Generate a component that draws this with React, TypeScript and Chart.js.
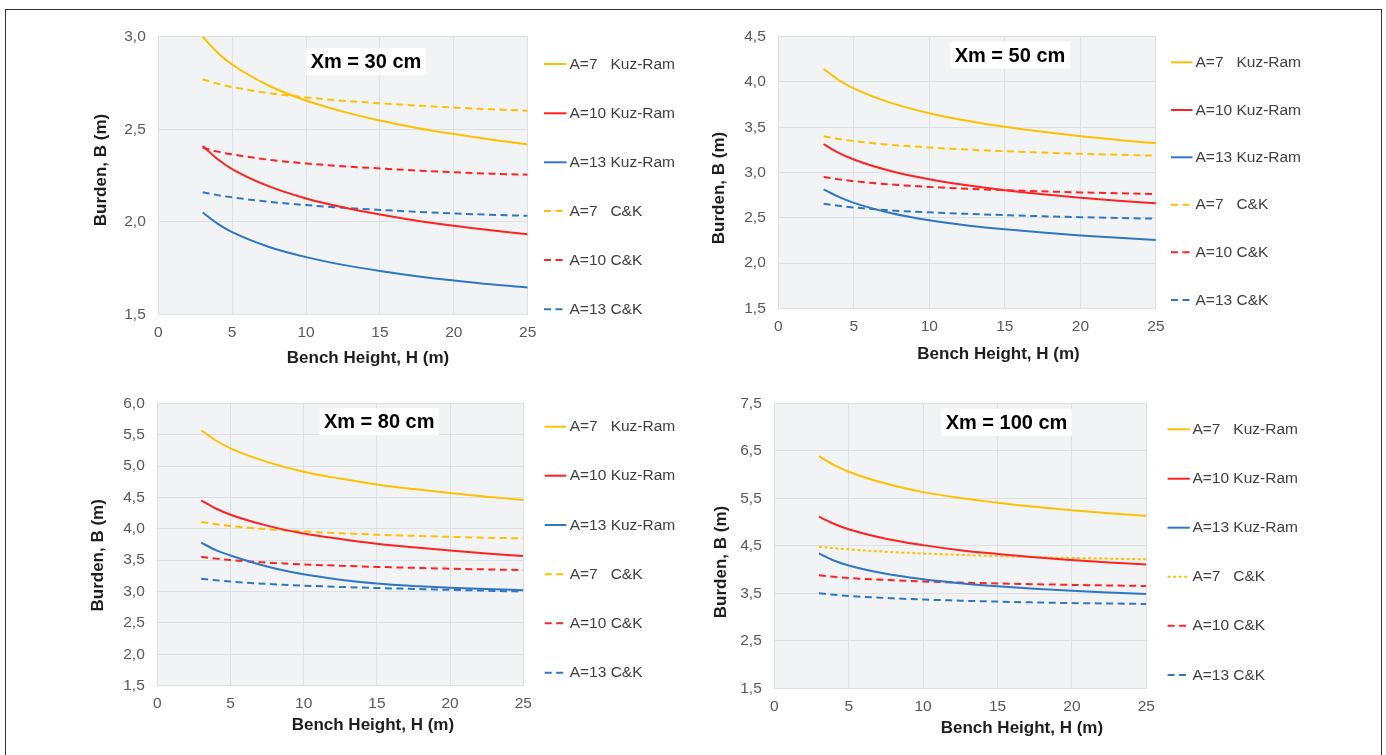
import React, { useEffect, useRef } from "react";
import { Chart, registerables } from "chart.js";

Chart.register(...registerables);

const FONT = '"Liberation Sans", Arial, Helvetica, sans-serif';

// ---------------- data ----------------
const benchHeights = [3, 4, 5, 7.5, 10, 12.5, 15, 17.5, 20, 22.5, 25];
const xTickValues = [0, 5, 10, 15, 20, 25];

const yTicks30 = [1.5, 2.0, 2.5, 3.0];
const yTicks50 = [1.5, 2.0, 2.5, 3.0, 3.5, 4.0, 4.5];
const yTicks80 = [1.5, 2.0, 2.5, 3.0, 3.5, 4.0, 4.5, 5.0, 5.5, 6.0];
const yTicks100 = [1.5, 2.5, 3.5, 4.5, 5.5, 6.5, 7.5];

const seriesLabels = [
  "A=7   Kuz-Ram",
  "A=10 Kuz-Ram",
  "A=13 Kuz-Ram",
  "A=7   C&K",
  "A=10 C&K",
  "A=13 C&K",
];

// Xm = 30 cm
const kr7_30 = [3.0, 2.915, 2.85, 2.735, 2.655, 2.595, 2.547, 2.507, 2.474, 2.444, 2.418];
const kr10_30 = [2.41, 2.339, 2.285, 2.191, 2.126, 2.078, 2.039, 2.006, 1.978, 1.954, 1.933];
const kr13_30 = [2.05, 1.99, 1.944, 1.864, 1.809, 1.767, 1.734, 1.706, 1.683, 1.662, 1.645];
const ck7_30 = [2.77, 2.746, 2.728, 2.695, 2.672, 2.654, 2.64, 2.628, 2.617, 2.608, 2.6];
const ck10_30 = [2.4, 2.379, 2.364, 2.335, 2.315, 2.3, 2.288, 2.277, 2.268, 2.26, 2.254];
const ck13_30 = [2.16, 2.144, 2.132, 2.108, 2.09, 2.076, 2.064, 2.054, 2.045, 2.038, 2.032];

// Xm = 50 cm
const kr7_50 = [4.143, 4.021, 3.929, 3.766, 3.655, 3.572, 3.505, 3.449, 3.401, 3.36, 3.322];
const kr10_50 = [3.314, 3.216, 3.143, 3.013, 2.925, 2.858, 2.805, 2.76, 2.722, 2.689, 2.66];
const kr13_50 = [2.814, 2.73, 2.665, 2.55, 2.472, 2.415, 2.372, 2.336, 2.305, 2.278, 2.255];
const ck7_50 = [3.4, 3.37, 3.347, 3.305, 3.276, 3.253, 3.235, 3.22, 3.207, 3.196, 3.186];
const ck10_50 = [2.95, 2.924, 2.904, 2.867, 2.841, 2.821, 2.805, 2.792, 2.78, 2.771, 2.762];
const ck13_50 = [2.655, 2.632, 2.614, 2.581, 2.56, 2.543, 2.529, 2.517, 2.507, 2.498, 2.49];

// Xm = 80 cm
const kr7_80 = [5.57, 5.407, 5.283, 5.066, 4.91, 4.8, 4.706, 4.633, 4.57, 4.512, 4.46];
const kr10_80 = [4.454, 4.324, 4.225, 4.051, 3.925, 3.838, 3.763, 3.705, 3.654, 3.607, 3.566];
const kr13_80 = [3.779, 3.66, 3.575, 3.4, 3.275, 3.19, 3.13, 3.09, 3.06, 3.04, 3.022];
const ck7_80 = [4.11, 4.073, 4.045, 3.994, 3.958, 3.93, 3.907, 3.888, 3.872, 3.858, 3.848];
const ck10_80 = [3.555, 3.525, 3.503, 3.462, 3.433, 3.411, 3.393, 3.378, 3.365, 3.353, 3.343];
const ck13_80 = [3.205, 3.18, 3.16, 3.122, 3.095, 3.074, 3.057, 3.042, 3.028, 3.014, 3.0];

// Xm = 100 cm
const kr7_100 = [6.39, 6.202, 6.06, 5.81, 5.63, 5.506, 5.408, 5.32, 5.248, 5.185, 5.128];
const kr10_100 = [5.114, 4.964, 4.85, 4.65, 4.514, 4.407, 4.328, 4.258, 4.201, 4.15, 4.105];
const kr13_100 = [4.34, 4.19, 4.085, 3.91, 3.795, 3.712, 3.648, 3.595, 3.552, 3.517, 3.486];
const ck7_100 = [4.48, 4.45, 4.425, 4.375, 4.338, 4.308, 4.284, 4.262, 4.244, 4.229, 4.216];
const ck10_100 = [3.88, 3.849, 3.824, 3.781, 3.75, 3.726, 3.707, 3.691, 3.677, 3.665, 3.654];
const ck13_100 = [3.5, 3.469, 3.444, 3.401, 3.369, 3.345, 3.325, 3.308, 3.294, 3.286, 3.275];

// ---------------- styles ----------------
const YELLOW = "#FFC000";
const RED = "#FF2222";
const BLUE = "#2F77C5";
const seriesColors = [YELLOW, RED, BLUE, YELLOW, RED, BLUE];
const DASH = [7, 4.5];
const DOT = [3, 2.5];

const W = 1386;
const H = 755;
const AXIS_W = 40;
const AXIS_H = 40;

type PanelCfg = {
  title: string;
  yMin: number;
  yMax: number;
  yTicks: number[];
  series: number[][];
  plot: { left: number; right: number; top: number; bottom: number };
  titleAt: [number, number];
  xTitleAt: [number, number];
  yTitleAt: [number, number];
  legend: { x1: number; x2: number; tx: number; ys: number[] };
  ck7Dash: number[];
};

const panels: PanelCfg[] = [
  {
    title: "Xm = 30 cm",
    yMin: 1.5,
    yMax: 3.0,
    yTicks: yTicks30,
    series: [kr7_30, kr10_30, kr13_30, ck7_30, ck10_30, ck13_30],
    plot: { left: 158.3, right: 527.7, top: 36.7, bottom: 314.3 },
    titleAt: [366, 61.7],
    xTitleAt: [368, 358],
    yTitleAt: [101.6, 170],
    legend: { x1: 544, x2: 566.5, tx: 569.5, ys: [64, 113.3, 162.3, 211, 260, 309.3] },
    ck7Dash: DASH,
  },
  {
    title: "Xm = 50 cm",
    yMin: 1.5,
    yMax: 4.5,
    yTicks: yTicks50,
    series: [kr7_50, kr10_50, kr13_50, ck7_50, ck10_50, ck13_50],
    plot: { left: 778.3, right: 1155.9, top: 36.7, bottom: 308.3 },
    titleAt: [1010, 55],
    xTitleAt: [998.5, 354],
    yTitleAt: [719, 188],
    legend: { x1: 1171, x2: 1192.5, tx: 1195.5, ys: [62.3, 110, 157.3, 204.7, 252.3, 300] },
    ck7Dash: DASH,
  },
  {
    title: "Xm = 80 cm",
    yMin: 1.5,
    yMax: 6.0,
    yTicks: yTicks80,
    series: [kr7_80, kr10_80, kr13_80, ck7_80, ck10_80, ck13_80],
    plot: { left: 157.3, right: 523.3, top: 403.3, bottom: 685.7 },
    titleAt: [379.2, 421.5],
    xTitleAt: [372.9, 725.7],
    yTitleAt: [98.4, 555.3],
    legend: { x1: 544.7, x2: 566.3, tx: 569.7, ys: [426.7, 475.7, 525, 574.3, 623.3, 672.7] },
    ck7Dash: DASH,
  },
  {
    title: "Xm = 100 cm",
    yMin: 1.5,
    yMax: 7.5,
    yTicks: yTicks100,
    series: [kr7_100, kr10_100, kr13_100, ck7_100, ck10_100, ck13_100],
    plot: { left: 774.3, right: 1146.3, top: 403.3, bottom: 688.3 },
    titleAt: [1006.5, 422.3],
    xTitleAt: [1021.9, 728.3],
    yTitleAt: [721.1, 562],
    legend: { x1: 1167.6, x2: 1189.8, tx: 1192.4, ys: [429.3, 478.7, 527.7, 576.7, 625.7, 675] },
    ck7Dash: DOT,
  },
];

const commaFmt = (v: number | string) => Number(v).toFixed(1).replace(".", ",");

const decorPlugin = {
  id: "panelDecor",
  beforeDraw(chart: any) {
    const { ctx, chartArea } = chart;
    ctx.save();
    ctx.fillStyle = "#F2F3F5";
    ctx.fillRect(chartArea.left, chartArea.top, chartArea.right - chartArea.left, chartArea.bottom - chartArea.top);
    ctx.restore();
  },
  afterDraw(chart: any) {
    const cfg: PanelCfg = chart.options.plugins.panelDecor.cfg;
    const ctx: CanvasRenderingContext2D = chart.ctx;
    ctx.save();

    // title box
    ctx.font = `bold 20px ${FONT}`;
    const tw = ctx.measureText(cfg.title).width;
    const bw = tw + 9;
    const bh = 27;
    ctx.fillStyle = "#FFFFFF";
    ctx.fillRect(cfg.titleAt[0] - bw / 2, cfg.titleAt[1] - bh / 2, bw, bh);
    ctx.fillStyle = "#000000";
    ctx.textAlign = "center";
    ctx.textBaseline = "middle";
    ctx.fillText(cfg.title, cfg.titleAt[0], cfg.titleAt[1] + 1);

    // axis titles
    ctx.font = `bold 17px ${FONT}`;
    ctx.fillStyle = "#1E1E1E";
    ctx.fillText("Bench Height, H (m)", cfg.xTitleAt[0], cfg.xTitleAt[1]);
    ctx.save();
    ctx.translate(cfg.yTitleAt[0], cfg.yTitleAt[1]);
    ctx.rotate(-Math.PI / 2);
    ctx.fillText("Burden, B (m)", 0, 0);
    ctx.restore();

    // legend
    const lg = cfg.legend;
    chart.data.datasets.forEach((ds: any, i: number) => {
      const y = lg.ys[i];
      ctx.save();
      ctx.strokeStyle = ds.borderColor;
      ctx.lineWidth = 2;
      ctx.setLineDash(ds.borderDash || []);
      ctx.beginPath();
      ctx.moveTo(lg.x1, y);
      ctx.lineTo(lg.x2, y);
      ctx.stroke();
      ctx.restore();
      ctx.font = `15.5px ${FONT}`;
      ctx.fillStyle = "#404040";
      ctx.textAlign = "left";
      ctx.textBaseline = "middle";
      ctx.fillText(ds.label, lg.tx, y + 0.5);
    });
    ctx.restore();
  },
};

function Panel({ cfg }: { cfg: PanelCfg }) {
  const ref = useRef<HTMLCanvasElement | null>(null);
  useEffect(() => {
    if (!ref.current) return;
    const datasets = cfg.series.map((ys, i) => ({
      label: seriesLabels[i],
      data: benchHeights.map((x, j) => ({ x, y: ys[j] })),
      borderColor: seriesColors[i],
      backgroundColor: seriesColors[i],
      borderWidth: 2,
      borderDash: i < 3 ? [] : i === 3 ? cfg.ck7Dash : DASH,
      pointRadius: 0,
      pointHoverRadius: 0,
      fill: false,
      cubicInterpolationMode: "monotone" as const,
    }));
    const gridColor = "#DEDFE1";
    const chart = new Chart(ref.current, {
      type: "line",
      data: { datasets },
      plugins: [decorPlugin as any],
      options: {
        animation: false,
        responsive: false,
        maintainAspectRatio: false,
        events: [],
        layout: {
          padding: {
            left: cfg.plot.left - AXIS_W,
            top: cfg.plot.top,
            right: W - cfg.plot.right,
            bottom: H - cfg.plot.bottom - AXIS_H,
          },
        },
        plugins: {
          legend: { display: false },
          title: { display: false },
          tooltip: { enabled: false },
          panelDecor: { cfg },
        } as any,
        scales: {
          x: {
            type: "linear",
            min: 0,
            max: 25,
            afterBuildTicks: (s: any) => {
              s.ticks = xTickValues.map((v) => ({ value: v }));
            },
            afterFit: (s: any) => {
              s.height = AXIS_H;
            },
            ticks: {
              color: "#595959",
              font: { family: FONT, size: 15.5 },
              padding: 9,
              maxRotation: 0,
              autoSkip: false,
              callback: (v: any) => String(v),
            },
            grid: { color: gridColor, lineWidth: 1, drawTicks: false },
            border: { display: false },
          },
          y: {
            type: "linear",
            min: cfg.yMin,
            max: cfg.yMax,
            afterBuildTicks: (s: any) => {
              s.ticks = cfg.yTicks.map((v) => ({ value: v }));
            },
            afterFit: (s: any) => {
              s.width = AXIS_W;
            },
            ticks: {
              color: "#595959",
              font: { family: FONT, size: 15.5 },
              padding: 12.5,
              autoSkip: false,
              callback: (v: any) => commaFmt(v),
            },
            grid: { color: gridColor, lineWidth: 1, drawTicks: false },
            border: { display: false },
          },
        },
      },
    });
    return () => chart.destroy();
  }, [cfg]);
  return (
    <canvas
      ref={ref}
      width={W}
      height={H}
      style={{ position: "absolute", left: 0, top: 0, width: W, height: H }}
    />
  );
}

export default function App() {
  return (
    <div
      style={{
        position: "absolute",
        left: 0,
        top: 0,
        width: W,
        height: H,
        overflow: "hidden",
        background: "#FFFFFF",
      }}
    >
      <div
        style={{
          position: "absolute",
          left: 5,
          top: 9,
          width: 1377,
          height: 770,
          border: "1px solid #333333",
          boxSizing: "border-box",
        }}
      />
      {panels.map((p) => (
        <Panel key={p.title} cfg={p} />
      ))}
    </div>
  );
}
